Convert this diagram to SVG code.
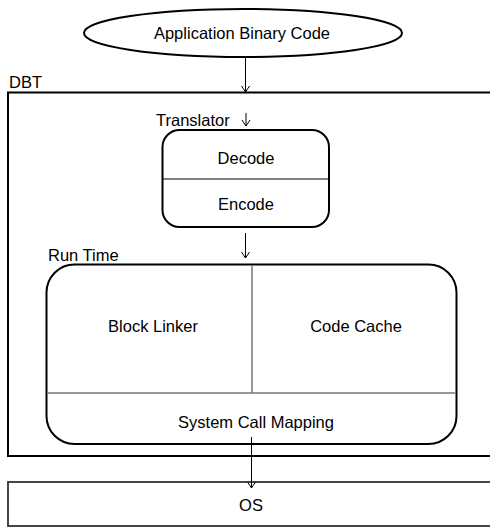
<svg xmlns="http://www.w3.org/2000/svg" width="490" height="527" viewBox="0 0 490 527">
<defs>
<marker id="arr" markerWidth="10" markerHeight="10" refX="9" refY="5" orient="auto" markerUnits="userSpaceOnUse">
<path d="M3,1 L9,5 L3,9" fill="none" stroke="#000" stroke-width="1"/>
</marker>
</defs>
<style>
text{font-family:"Liberation Sans",Arial,sans-serif;font-size:16.5px;fill:#000}
.c{text-anchor:middle}
.box{fill:#fff;stroke:#000;stroke-width:2}
.div{stroke:#777;stroke-width:1.5;fill:none}
.conn{stroke:#000;stroke-width:1;fill:none}
</style>
<rect width="490" height="527" fill="#fff"/>
<g id="dbt">
<rect class="box" x="8" y="92.5" width="500" height="363.5"/>
<text x="9" y="88">DBT</text>
</g>
<g id="app">
<ellipse class="box" cx="243" cy="33" rx="159" ry="24" stroke-width="1.5"/>
<text class="c" x="242" y="39">Application Binary Code</text>
</g>
<g id="translator">
<text x="156" y="126">Translator</text>
<rect class="box" x="162.5" y="130" width="166.5" height="97" rx="17"/>
<line x1="163" y1="179" x2="328" y2="179" stroke="#000" stroke-width="1"/>
<text class="c" x="246" y="164">Decode</text>
<text class="c" x="246" y="210">Encode</text>
</g>
<g id="runtime">
<text x="48" y="261">Run Time</text>
<rect class="box" x="46.5" y="264.5" width="410" height="179.5" rx="28"/>
<line class="div" x1="252" y1="265" x2="252" y2="393"/>
<line class="div" x1="47" y1="393" x2="456" y2="393"/>
<text class="c" x="153" y="332">Block Linker</text>
<text class="c" x="356" y="332">Code Cache</text>
<text class="c" x="256" y="428">System Call Mapping</text>
</g>
<g id="os">
<rect x="8" y="482" width="500" height="44" fill="#fff" stroke="#333" stroke-width="1.8"/>
<text class="c" x="251" y="511">OS</text>
</g>
<g id="connectors">
<line class="conn" x1="245.5" y1="57" x2="245.5" y2="92" marker-end="url(#arr)"/>
<line class="conn" x1="246" y1="113" x2="246" y2="126" marker-end="url(#arr)"/>
<line class="conn" x1="245.5" y1="233" x2="245.5" y2="258" marker-end="url(#arr)"/>
<line class="conn" x1="251.5" y1="437" x2="251.5" y2="488" marker-end="url(#arr)"/>
</g>
</svg>
